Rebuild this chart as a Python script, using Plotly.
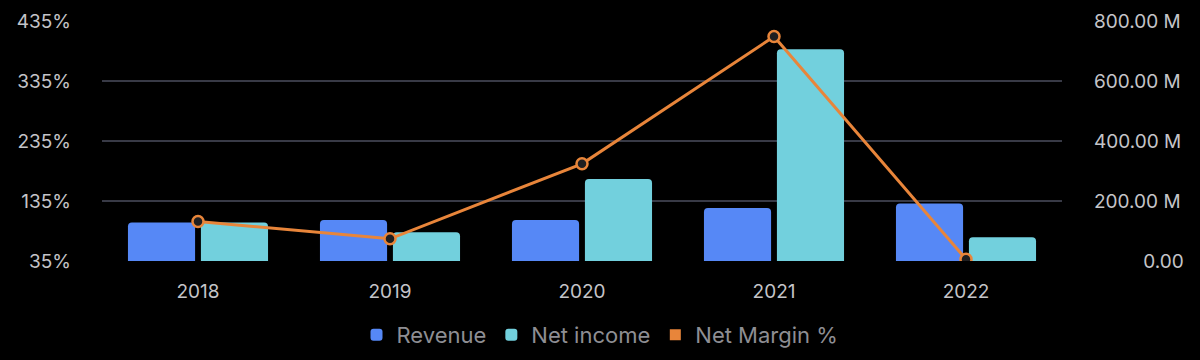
import plotly.graph_objects as go

years = ["2018", "2019", "2020", "2021", "2022"]
revenue_m = [128, 137, 137, 177, 192]
net_income_m = [128, 96, 273, 706, 79]
net_margin_pct = [101, 72, 197, 409, 38]

left_ticks = [35, 135, 235, 335, 435]
left_tick_text = ["35%", "135%", "235%", "335%", "435%"]
right_ticks = [0, 200, 400, 600, 800]
right_tick_text = ["\u2007\u2007\u2007\u20070.00", "200.00 M", "400.00 M", "600.00 M", "800.00 M"]

BLUE = "#5688F6"
CYAN = "#72D0DD"
ORANGE = "#E8853A"
GRID = "#383a46"
TICK = "#c4c4c8"
LEG = "#8e8e93"
FONT = "Inter, Roboto, sans-serif"
TS = 19

fig = go.Figure()
fig.add_trace(go.Bar(x=years, y=revenue_m, name="Revenue", marker=dict(color=BLUE, line=dict(width=0)),
                     yaxis="y"))
fig.add_trace(go.Bar(x=years, y=net_income_m, name="Net income", marker=dict(color=CYAN, line=dict(width=0)),
                     yaxis="y"))
fig.add_trace(go.Scatter(x=years, y=net_margin_pct, name="Net Margin %", mode="lines+markers",
                         line=dict(color=ORANGE, width=3),
                         marker=dict(size=11, color="#1e1e20", line=dict(color=ORANGE, width=2.5)),
                         showlegend=False, yaxis="y2"))
fig.add_trace(go.Scatter(x=[None], y=[None], name="Net Margin %", mode="markers",
                         marker=dict(symbol="square", size=11, color=ORANGE), yaxis="y2"))

fig.update_layout(
    width=1200, height=360,
    paper_bgcolor="#000000", plot_bgcolor="#000000",
    margin=dict(l=102, r=138, t=21, b=99, autoexpand=False),
    font=dict(family=FONT, size=TS, color=TICK),
    barmode="group", bargap=0.24, bargroupgap=0.08, barcornerradius=4,
    xaxis=dict(showgrid=False, zeroline=False, showline=False, ticks="",
               tickfont=dict(size=TS, color=TICK), ticklabelstandoff=17),
    yaxis=dict(range=[0, 800], tickvals=right_ticks, ticktext=right_tick_text, side="right",
               showgrid=True, gridcolor=GRID, gridwidth=1.8, zeroline=False, showline=False,
               tickfont=dict(size=TS, color=TICK), ticklabelstandoff=31),
    yaxis2=dict(range=[35, 435], tickvals=left_ticks, ticktext=left_tick_text,
                overlaying="y", side="left", showgrid=False, zeroline=False, showline=False,
                tickfont=dict(size=TS, color=TICK), ticklabelstandoff=30),
    legend=dict(orientation="h", x=0.5, xanchor="center", xref="container",
                y=25 / 360, yanchor="middle", yref="container",
                font=dict(size=22, color=LEG), itemwidth=30, traceorder="normal",
                bgcolor="rgba(0,0,0,0)"),
    showlegend=True,
)

fig.write_html("out.html", config={"displayModeBar": False},
               post_script="document.body.style.margin='0';document.body.style.background='#000';")
